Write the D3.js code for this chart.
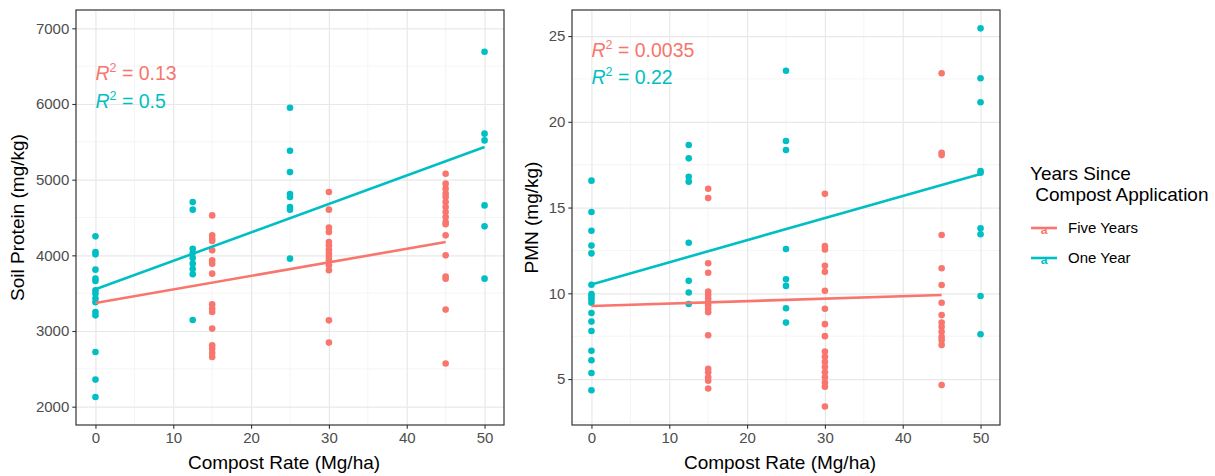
<!DOCTYPE html>
<html lang="en">
  <head>
    <meta charset="UTF-8" />
    <title>Compost rate</title>
    <style>
      body { margin: 0; background: #fff; }
      text { font-family: "Liberation Sans", Arial, sans-serif; }
    </style>
  </head>
  <body>
    <svg id="svg" width="1215" height="476"></svg>

    <script src="https://cdn.jsdelivr.net/npm/d3@7"></script>
    <script>
      // [rate, value] pairs
      const proteinFive = [
        [15, 4528], [15, 4264], [15, 4220], [15, 4189], [15, 4066], [15, 3934], [15, 3890], [15, 3758],
        [15, 3353], [15, 3296], [15, 3251], [15, 3032], [15, 2811], [15, 2767], [15, 2709], [15, 2657],
        [30, 4836], [30, 4604], [30, 4366], [30, 4308], [30, 4176], [30, 4132], [30, 4075], [30, 4022],
        [30, 3978], [30, 3934], [30, 3868], [30, 3802], [30, 3141], [30, 2847],
        [45, 5079], [45, 4947], [45, 4881], [45, 4815], [45, 4770], [45, 4704], [45, 4638], [45, 4572],
        [45, 4506], [45, 4440], [45, 4410], [45, 4264], [45, 4000], [45, 3720], [45, 3690], [45, 3283], [45, 2570]
      ];
      const proteinOne = [
        [0, 4251], [0, 4044], [0, 4013], [0, 3811], [0, 3692], [0, 3660], [0, 3538], [0, 3494],
        [0, 3428], [0, 3380], [0, 3251], [0, 3207], [0, 2723], [0, 2358], [0, 2128],
        [12.5, 4704], [12.5, 4604], [12.5, 4088], [12.5, 4030], [12.5, 3965], [12.5, 3890], [12.5, 3820],
        [12.5, 3750], [12.5, 3145],
        [25, 5951], [25, 5383], [25, 5100], [25, 4810], [25, 4770], [25, 4638], [25, 4604], [25, 3956],
        [50, 6690], [50, 5608], [50, 5519], [50, 4660], [50, 4383], [50, 3692]
      ];
      const pmnFive = [
        [15, 16.1], [15, 15.55], [15, 11.75], [15, 11.2], [15, 10.1], [15, 9.9], [15, 9.7], [15, 9.5],
        [15, 9.3], [15, 9.1], [15, 8.9], [15, 7.55], [15, 5.6], [15, 5.4], [15, 5.1], [15, 4.9], [15, 4.45],
        [30, 15.8], [30, 12.75], [30, 12.55], [30, 11.6], [30, 11.25], [30, 10.15], [30, 9.1], [30, 8.2],
        [30, 7.5], [30, 6.6], [30, 6.3], [30, 6.0], [30, 5.7], [30, 5.4], [30, 5.1], [30, 4.8], [30, 4.55], [30, 3.4],
        [45, 22.83], [45, 18.2], [45, 18.06], [45, 13.4], [45, 11.46], [45, 10.48], [45, 9.45], [45, 8.73],
        [45, 8.29], [45, 8.05], [45, 7.76], [45, 7.47], [45, 7.28], [45, 6.99], [45, 4.65]
      ];
      const pmnOne = [
        [0, 16.57], [0, 14.74], [0, 13.65], [0, 12.78], [0, 12.33], [0, 10.5], [0, 9.95], [0, 9.8],
        [0, 9.65], [0, 9.45], [0, 8.85], [0, 8.35], [0, 7.8], [0, 6.65], [0, 6.1], [0, 5.35], [0, 4.35],
        [12.5, 18.65], [12.5, 17.87], [12.5, 16.8], [12.5, 16.51], [12.5, 12.95], [12.5, 10.73], [12.5, 10.05], [12.5, 9.38],
        [25, 22.98], [25, 18.88], [25, 18.36], [25, 12.58], [25, 10.82], [25, 10.43], [25, 9.13], [25, 8.29],
        [50, 25.45], [50, 22.54], [50, 21.14], [50, 17.13], [50, 17.03], [50, 13.79], [50, 13.44], [50, 9.84], [50, 7.61]
      ];

      // fitted lm lines (endpoints)
      const proteinFiveFit = [[0, 3370], [45, 4176]];
      const proteinOneFit = [[0, 3551], [50, 5431]];
      const pmnFiveFit = [[0, 9.26], [45, 9.9]];
      const pmnOneFit = [[0, 10.52], [50, 16.96]];

      const groups = ["Five Years", "One Year"];
      const proteinR2 = ["0.13", "0.5"];
      const pmnR2 = ["0.0035", "0.22"];
      const xTicks = [0, 10, 20, 30, 40, 50];
      const proteinTicks = [2000, 3000, 4000, 5000, 6000, 7000];
      const pmnTicks = [5, 10, 15, 20, 25];

      const COLORS = ["#F8766D", "#00BFC4"];
      const TOP = 10;
      const BOTTOM = 425;
      const svg = d3.select("#svg");

      function drawPanel(opts) {
        const x = d3.scaleLinear().domain([-2.5, 52.5]).range([opts.left, opts.right]);
        const y = d3.scaleLinear().domain(opts.yDomain).range([BOTTOM, TOP]);
        const g = svg.append("g");

        // minor grid
        const xMinor = xTicks.slice(0, -1).map((t) => t + 5);
        const step = opts.yTicks[1] - opts.yTicks[0];
        const yMinor = [opts.yTicks[0] - step / 2]
          .concat(opts.yTicks.map((t) => t + step / 2))
          .filter((v) => v > opts.yDomain[0] && v < opts.yDomain[1]);
        g.selectAll(".xminor").data(xMinor).enter().append("line")
          .attr("x1", (d) => x(d)).attr("x2", (d) => x(d))
          .attr("y1", TOP).attr("y2", BOTTOM)
          .attr("stroke", "#f2f2f2").attr("stroke-width", 0.8);
        g.selectAll(".yminor").data(yMinor).enter().append("line")
          .attr("x1", opts.left).attr("x2", opts.right)
          .attr("y1", (d) => y(d)).attr("y2", (d) => y(d))
          .attr("stroke", "#f2f2f2").attr("stroke-width", 0.8);

        // major grid via axes
        g.append("g")
          .attr("transform", `translate(0, ${BOTTOM})`)
          .call(d3.axisBottom(x).tickValues(xTicks).tickSize(-(BOTTOM - TOP)).tickFormat(""))
          .call((a) => a.select(".domain").remove())
          .call((a) => a.selectAll("line").attr("stroke", "#e8e8e8").attr("stroke-width", 1.2));
        g.append("g")
          .attr("transform", `translate(${opts.left}, 0)`)
          .call(d3.axisLeft(y).tickValues(opts.yTicks).tickSize(-(opts.right - opts.left)).tickFormat(""))
          .call((a) => a.select(".domain").remove())
          .call((a) => a.selectAll("line").attr("stroke", "#e8e8e8").attr("stroke-width", 1.2));

        // points
        opts.series.forEach((s, i) => {
          g.append("g").selectAll("circle").data(s).enter().append("circle")
            .attr("cx", (d) => x(d[0]))
            .attr("cy", (d) => y(d[1]))
            .attr("r", 3.3)
            .attr("fill", COLORS[i]);
        });

        // regression lines
        const line = d3.line().x((d) => x(d[0])).y((d) => y(d[1]));
        opts.fits.forEach((f, i) => {
          g.append("path").attr("d", line(f))
            .attr("fill", "none").attr("stroke", COLORS[i]).attr("stroke-width", 2.6);
        });

        // R2 labels
        opts.r2.forEach((r, i) => {
          const t = g.append("text")
            .attr("x", x(0))
            .attr("y", opts.r2Y + i * 27.5)
            .attr("fill", COLORS[i])
            .attr("font-size", 19.5);
          t.append("tspan").attr("font-style", "italic").text("R");
          t.append("tspan").attr("font-size", 12.5).attr("dy", -8).text("2");
          t.append("tspan").attr("dy", 8).text(" = " + r);
        });

        // border
        g.append("rect")
          .attr("x", opts.left).attr("y", TOP)
          .attr("width", opts.right - opts.left).attr("height", BOTTOM - TOP)
          .attr("fill", "none").attr("stroke", "#333").attr("stroke-width", 1.2);

        // axes with tick labels
        const xa = g.append("g")
          .attr("transform", `translate(0, ${BOTTOM})`)
          .call(d3.axisBottom(x).tickValues(xTicks).tickSize(3.7).tickPadding(4).tickFormat(d3.format("d")));
        const ya = g.append("g")
          .attr("transform", `translate(${opts.left}, 0)`)
          .call(d3.axisLeft(y).tickValues(opts.yTicks).tickSize(3.7).tickPadding(3).tickFormat(d3.format("d")));
        [xa, ya].forEach((a) => {
          a.select(".domain").remove();
          a.selectAll("line").attr("stroke", "#333").attr("stroke-width", 1.1);
          a.selectAll("text").attr("fill", "#4d4d4d").attr("font-size", 15)
            .attr("font-family", "Liberation Sans, Arial, sans-serif");
        });

        // axis titles
        g.append("text")
          .attr("x", (opts.left + opts.right) / 2 - 6)
          .attr("y", 469)
          .attr("text-anchor", "middle")
          .attr("font-size", 19)
          .attr("fill", "#000")
          .text("Compost Rate (Mg/ha)");
        g.append("text")
          .attr("transform", `translate(${opts.yTitleX}, ${(TOP + BOTTOM) / 2}) rotate(-90)`)
          .attr("text-anchor", "middle")
          .attr("font-size", 19)
          .attr("fill", "#000")
          .text(opts.yTitle);
      }

      drawPanel({
        left: 76, right: 504,
        yDomain: [1758, 7242],
        yTicks: proteinTicks,
        series: [proteinFive, proteinOne],
        fits: [proteinFiveFit, proteinOneFit],
        r2: proteinR2, r2Y: 80,
        yTitle: "Soil Protein (mg/kg)", yTitleX: 24
      });
      drawPanel({
        left: 572, right: 1000,
        yDomain: [2.32, 26.52],
        yTicks: pmnTicks,
        series: [pmnFive, pmnOne],
        fits: [pmnFiveFit, pmnOneFit],
        r2: pmnR2, r2Y: 56.5,
        yTitle: "PMN (mg/kg)", yTitleX: 538
      });

      // legend
      const legend = svg.append("g").attr("transform", "translate(1030, 0)");
      legend.append("text").attr("x", 0).attr("y", 180).attr("font-size", 19).text("Years Since");
      legend.append("text").attr("x", 0).attr("y", 201).attr("font-size", 19)
        .attr("xml:space", "preserve").text(" Compost Application");
      groups.forEach((name, i) => {
        const cy = 228 + i * 30;
        legend.append("line")
          .attr("x1", 1).attr("x2", 27).attr("y1", cy).attr("y2", cy)
          .attr("stroke", COLORS[i]).attr("stroke-width", 2.6);
        legend.append("text")
          .attr("x", 14).attr("y", cy + 6).attr("text-anchor", "middle")
          .attr("font-size", 12).attr("font-weight", "bold").attr("fill", COLORS[i]).text("a");
        legend.append("text")
          .attr("x", 38).attr("y", cy + 5).attr("font-size", 15).attr("fill", "#000").text(name);
      });
    </script>
  </body>
</html>
